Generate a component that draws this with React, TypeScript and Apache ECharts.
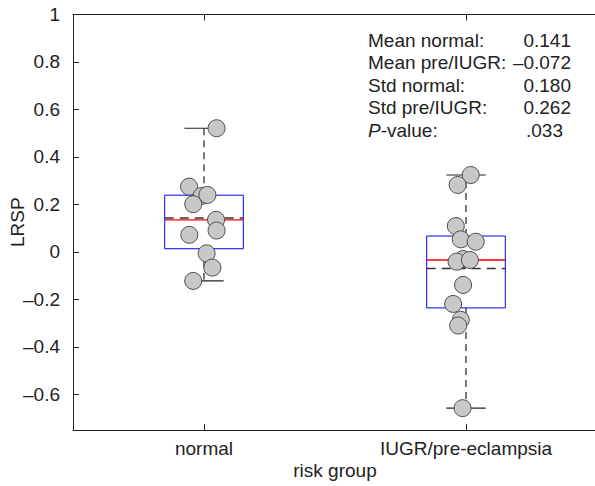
import React, { useEffect, useRef } from "react";
import * as echarts from "echarts";

const categories = ["normal", "IUGR/pre-eclampsia"];
const normalValues = [0.275, 0.236, 0.24, 0.201, 0.135, 0.09, 0.072, -0.006, -0.066, -0.122, 0.521];
const normalJitter = [-0.057, -0.009, 0.013, -0.041, 0.046, 0.048, -0.056, 0.01, 0.032, -0.041, 0.048];
const iugrValues = [-0.03, 0.324, 0.282, 0.109, 0.053, 0.043, -0.041, -0.034, -0.139, -0.219, -0.286, -0.31, -0.658];
const iugrJitter = [-0.011, 0.018, -0.032, -0.039, -0.02, 0.037, -0.036, 0.015, -0.011, -0.049, -0.02, -0.03, -0.013];
const yTicks = [-0.6, -0.4, -0.2, 0, 0.2, 0.4, 0.6, 0.8, 1];
const statLabels = ["Mean normal:", "Mean pre/IUGR:", "Std normal:", "Std pre/IUGR:", "{i|P}-value:"];
const statValues = ["0.141", "\u20130.072", "0.180", "0.262", ".033"];

const FONT = "'Liberation Sans', Arial, Helvetica, sans-serif";
const FS = 19;

function prctile(vals: number[], p: number) {
  const s = [...vals].sort((a, b) => a - b);
  const n = s.length;
  const pos = p * n + 0.5;
  if (pos <= 1) return s[0];
  if (pos >= n) return s[n - 1];
  const lo = Math.floor(pos);
  const f = pos - lo;
  return s[lo - 1] + f * (s[lo] - s[lo - 1]);
}

function boxStats(vals: number[], x: number) {
  const q1 = prctile(vals, 0.25);
  const med = prctile(vals, 0.5);
  const q3 = prctile(vals, 0.75);
  const iqr = q3 - q1;
  const inside = vals.filter((v) => v >= q1 - 1.5 * iqr && v <= q3 + 1.5 * iqr);
  const lo = Math.min(...inside);
  const hi = Math.max(...inside);
  const mean = vals.reduce((a, b) => a + b, 0) / vals.length;
  return [x, lo, q1, med, q3, hi, mean];
}

function fmtTick(v: number) {
  if (Math.abs(v) < 1e-9) return "0";
  const s = String(+Math.abs(v).toFixed(1));
  return v < 0 ? "\u2013" + s : s;
}

export default function App() {
  const ref = useRef<HTMLDivElement>(null);
  useEffect(() => {
    if (!ref.current) return;
    const chart = echarts.init(ref.current, null, { renderer: "svg" });
    const boxData = [boxStats(normalValues, 1), boxStats(iugrValues, 2)];
    const pts = [
      ...normalValues.map((v, i) => [1 + normalJitter[i], v]),
      ...iugrValues.map((v, i) => [2 + iugrJitter[i], v]),
    ];
    const axisColor = "#222";
    const option: any = {
      animation: false,
      textStyle: { fontFamily: FONT },
      grid: { left: 73, top: 14.5, bottom: 56, right: -2, outerBoundsMode: "none", containLabel: false },
      xAxis: [
        {
          type: "value",
          min: 0.5,
          max: 2.5,
          position: "bottom",
          axisLine: { show: true, onZero: false, lineStyle: { color: axisColor, width: 1 } },
          axisTick: { show: true, inside: true, length: 6, customValues: [1, 2], lineStyle: { color: axisColor } },
          axisLabel: {
            show: true,
            customValues: [1, 2],
            formatter: (v: number) => categories[Math.round(v) - 1],
            fontSize: FS,
            color: axisColor,
            margin: 9,
            fontFamily: FONT,
          },
          splitLine: { show: false },
          name: "risk group",
          nameLocation: "middle",
          nameGap: 31,
          nameMoveOverlap: false,
          nameTextStyle: { fontSize: FS, color: axisColor, fontFamily: FONT },
        },
        {
          type: "value",
          min: 0.5,
          max: 2.5,
          position: "top",
          axisLine: { show: true, onZero: false, lineStyle: { color: axisColor, width: 1 } },
          axisTick: { show: true, inside: true, length: 6, customValues: [1, 2], lineStyle: { color: axisColor } },
          axisLabel: { show: false },
          splitLine: { show: false },
        },
      ],
      yAxis: {
        type: "value",
        min: -0.75,
        max: 1,
        axisLine: { show: true, onZero: false, lineStyle: { color: axisColor, width: 1 } },
        axisTick: { show: true, inside: true, length: 6, customValues: yTicks, lineStyle: { color: axisColor } },
        axisLabel: {
          show: true,
          customValues: yTicks,
          formatter: (v: number) => fmtTick(v),
          fontSize: FS,
          color: axisColor,
          margin: 13,
          fontFamily: FONT,
        },
        splitLine: { show: false },
        name: "LRSP",
        nameLocation: "middle",
        nameGap: 46,
        nameRotate: 90,
        nameMoveOverlap: false,
        nameTextStyle: { fontSize: FS, color: axisColor, fontFamily: FONT },
      },
      series: [
        {
          type: "custom",
          xAxisIndex: 0,
          yAxisIndex: 0,
          z: 2,
          data: boxData,
          encode: { x: 0, y: [1, 2, 3, 4, 5, 6] },
          renderItem: (params: any, api: any) => {
            const x = api.value(0);
            const lo = api.value(1);
            const q1 = api.value(2);
            const med = api.value(3);
            const q3 = api.value(4);
            const hi = api.value(5);
            const mean = api.value(6);
            const half = 0.15;
            const cap = 0.075;
            const c = (a: number, b: number) => api.coord([a, b]);
            const line = (p1: number[], p2: number[], style: any) => ({
              type: "line",
              shape: { x1: p1[0], y1: p1[1], x2: p2[0], y2: p2[1] },
              style: { fill: null, ...style },
            });
            const dashStyle = { stroke: "#222", lineWidth: 1.2, lineDash: [7, 5] };
            const solid = { stroke: "#222", lineWidth: 1.2 };
            const tl = c(x - half, q3);
            const br = c(x + half, q1);
            return {
              type: "group",
              children: [
                line(c(x, q3), c(x, hi), dashStyle),
                line(c(x, q1), c(x, lo), dashStyle),
                line(c(x - cap, hi), c(x + cap, hi), solid),
                line(c(x - cap, lo), c(x + cap, lo), solid),
                {
                  type: "rect",
                  shape: { x: tl[0], y: tl[1], width: br[0] - tl[0], height: br[1] - tl[1] },
                  style: { fill: "none", stroke: "#0000ff", lineWidth: 1 },
                },
                line(c(x - half, mean), c(x + half, mean), { stroke: "#333", lineWidth: 1.5, lineDash: [9, 6] }),
                line(c(x - half, med), c(x + half, med), { stroke: "#ff0000", lineWidth: 1.3 }),
              ],
            };
          },
        },
        {
          type: "scatter",
          xAxisIndex: 0,
          yAxisIndex: 0,
          z: 3,
          data: pts,
          symbol: "circle",
          symbolSize: 17,
          itemStyle: { color: "#c8c8c8", borderColor: "#4d4d4d", borderWidth: 1, opacity: 1 },
          emphasis: { disabled: true },
        },
      ],
      graphic: [
        ...statLabels.map((t, i) => ({
          type: "text",
          z: 10,
          style: {
            text: t,
            x: 368,
            y: 40 + i * 22.6,
            fontSize: FS,
            fontFamily: FONT,
            fill: "#222",
            align: "left",
            textAlign: "left",
            verticalAlign: "middle",
            textVerticalAlign: "middle",
            rich: { i: { fontStyle: "italic", fontSize: FS, fontFamily: FONT, fill: "#222" } },
          },
        })),
        ...statValues.map((t, i) => ({
          type: "text",
          z: 10,
          style: {
            text: t,
            x: i === 4 ? 563 : 571,
            y: 40 + i * 22.6,
            fontSize: FS,
            fontFamily: FONT,
            fill: "#222",
            align: "right",
            textAlign: "right",
            verticalAlign: "middle",
            textVerticalAlign: "middle",
          },
        })),
      ],
    };
    chart.setOption(option);
    return () => chart.dispose();
  }, []);
  return (
    <div
      ref={ref}
      style={{ position: "absolute", left: 0, top: 0, width: 595, height: 486, background: "#fff" }}
    />
  );
}
